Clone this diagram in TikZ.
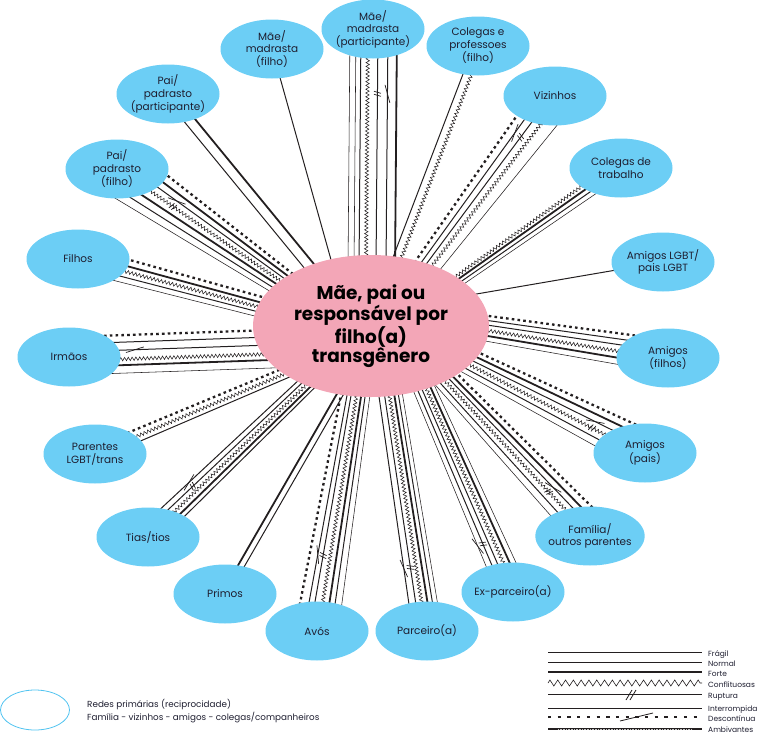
\documentclass[tikz,border=0pt]{standalone}
\usepackage{fontspec}
\setmainfont{Poppins}
\usetikzlibrary{calc,shapes.geometric,decorations.pathmorphing,decorations.markings}
\pgfdeclarelayer{bg}
\pgfsetlayers{bg,main}
\definecolor{nodeblue}{RGB}{108,206,245}
\definecolor{nodepink}{RGB}{243,166,183}
\definecolor{ink}{RGB}{35,31,32}
\definecolor{txt}{RGB}{30,30,48}
\definecolor{legblue}{RGB}{80,195,240}
\newcommand\bund[5]{%
  \coordinate (bA) at ($(c.#1)!14pt!(c)$);
  \def\mpos{#4}%
  \foreach \bOff/\bSty in {#5}{%
    \pgfmathsetmacro\bOs{#3*\bOff}%
    \expandafter\draw\expandafter[\bSty] ($(bA)!\bOs pt!90:(#2)$) -- ($(#2)!\bOff pt!-90:(bA)$);
  }%
}
\tikzset{
  lnfr/.style={ink, line width=0.55pt},
  lnno/.style={ink, line width=1pt},
  lnfo/.style={ink, line width=1.8pt},
  lncf/.style={draw=none, postaction={draw=ink, line width=0.55pt, decorate, decoration={zigzag, amplitude=1.7pt, segment length=3.8pt}}},
  lnds/.style={ink, line width=2.3pt, dash pattern=on 2.6pt off 3.2pt},
  rmk/.style={postaction={decorate, decoration={markings, mark=at position \mpos with {\draw[ink, line width=0.7pt] (-2.5pt,-3.5pt)--(-0.5pt,3.5pt) (0.5pt,-3.5pt)--(2.5pt,3.5pt);}}}},
  imk/.style={postaction={decorate, decoration={markings, mark=at position \mpos with {\draw[ink, line width=0.7pt] (-9pt,-2.5pt)--(9pt,2.5pt);}}}},
  lnnr/.style={lnno, rmk},
  lnni/.style={lnno, imk},
  lnfi/.style={lnfr, imk},
  lncr/.style={lncf, rmk},
  bnode/.style={ellipse, fill=nodeblue, minimum width=103pt, minimum height=59pt, inner sep=-3pt, align=center, text=txt, font=\fontsize{10.5}{12.5}\selectfont},
  cnode/.style={ellipse, fill=nodepink, minimum width=236pt, minimum height=142pt, inner sep=0pt, align=center, text=black, font=\bfseries\fontsize{18.5}{19}\selectfont},
  lgl/.style={anchor=base west, inner sep=0pt, text=txt, font=\fontsize{7.5}{9}\selectfont},
  lgt/.style={anchor=base west, inner sep=0pt, text=txt, font=\fontsize{8.8}{10}\selectfont}
}
\begin{document}
\begin{tikzpicture}[x=1pt,y=-1pt]
\useasboundingbox (0,0) rectangle (764,734);
% centre
\node[cnode] (c) at (371,326) {Mãe, pai ou\\responsável por\\filho(a)\\transgênero};
% outer nodes
\node[bnode] (n1) at (272,49) {Mãe/\\madrasta\\(filho)};
\node[bnode] (n2) at (373,29) {Mãe/\\madrasta\\(participante)};
\node[bnode] (n3) at (478,46) {Colegas e\\professoes\\(filho)};
\node[bnode] (n4) at (555,96) {Vizinhos};
\node[bnode] (n5) at (621,168) {Colegas de\\trabalho};
\node[bnode] (n6) at (663,262) {Amigos LGBT/\\pais LGBT};
\node[bnode] (n7) at (668,358) {Amigos\\(filhos)};
\node[bnode] (n8) at (645,453) {Amigos\\(pais)};
\node[bnode] (n9) at (590,536) {Família/\\outros parentes};
\node[bnode] (n10) at (513,592) {Ex-parceiro(a)};
\node[bnode] (n11) at (427,631) {Parceiro(a)};
\node[bnode] (n12) at (317,631) {Avós};
\node[bnode] (n13) at (225,594) {Primos};
\node[bnode] (n14) at (148,537) {Tias/tios};
\node[bnode] (n15) at (95,454) {Parentes\\LGBT/trans};
\node[bnode] (n16) at (69,357) {Irmãos};
\node[bnode] (n17) at (78,259) {Filhos};
\node[bnode] (n18) at (117,169) {Pai/\\padrasto\\(filho)};
\node[bnode] (n19) at (168,94) {Pai/\\padrasto\\(participante)};
% connectors
\begin{pgfonlayer}{bg}
\bund{124}{n1}{1}{0.7}{0/lnno}
\bund{90}{n2}{1}{0.73}{23/lnfr,17/lnfr,12/lnno,5/lncf,-5/lnnr,-15/lnni,-24/lnfo}
\bund{69}{n3}{1}{0.7}{4/lnno,-4/lncf}
\bund{46}{n4}{0.6}{0.76}{20/lnds,11/lnni,3/lnnr,-6/lncf,-20/lnfr}
\bund{26}{n5}{0.7}{0.7}{8/lncf,3/lnfo,-2/lnno,-7/lnfr}
\bund{18}{n6}{1}{0.7}{0/lnno}
\bund{359}{n7}{0.75}{0.7}{18/lnds,12/lnno,6/lnno,-1/lncf,-8/lnfo,-15/lnfr}
\bund{340}{n8}{0.6}{0.72}{22/lnds,14/lnfo,6/lnni,-2/lncr,-10/lnno,-18/lnfr}
\bund{325}{n9}{0.6}{0.73}{22/lnds,14/lnfo,7/lnni,0/lncr,-8/lnno,-16/lnfr}
\bund{313}{n10}{0.7}{0.76}{15/lnfr,9/lnfo,3/lncf,-3/lnno,-9/lnnr,-15/lnfi}
\bund{287}{n11}{0.8}{0.74}{15/lnfr,10/lnno,5/lnfo,-1/lncf,-7/lnnr,-14/lnni}
\bund{257}{n12}{0.65}{0.7}{21/lnfr,14/lnno,8/lnfo,1/lncf,-7/lnnr,-13/lnni,-22/lnds}
\bund{247}{n13}{1}{0.7}{-3/lnfo,3/lnno}
\bund{222}{n14}{0.7}{0.71}{-12/lnni,-6/lnnr,0/lncf,6/lnfo,11/lnno}
\bund{210}{n15}{0.8}{0.7}{-7/lnds,0/lncf,6/lnno}
\bund{194}{n16}{1}{0.68}{-20/lnds,-13/lnno,-5/lnni,4/lncf,10/lnfo,18/lnfr}
\bund{171}{n17}{0.8}{0.7}{-13/lnds,-6/lnfo,0/lncf,6/lnno,12/lnfr}
\bund{155}{n18}{0.5}{0.68}{-26/lnds,-17/lnfo,-9/lnni,-1/lncr,8/lnfo,17/lnno,26/lnfr}
\bund{137}{n19}{1}{0.7}{5/lnno,-5/lnfo}
\end{pgfonlayer}
% legend (line types)
\node[lgl] (l1) at (708,656) {Frágil};
\node[lgl] (l2) at (708,666) {Normal};
\node[lgl] (l3) at (708,676) {Forte};
\node[lgl] (l4) at (708,687) {Conflituosas};
\node[lgl] (l5) at (708,698) {Ruptura};
\node[lgl] (l6) at (708,711) {Interrompida};
\node[lgl] (l7) at (708,721) {Descontínua};
\node[lgl] (l8) at (708,732) {Ambivantes};
\coordinate (a1) at (548,652);
\coordinate (a2) at (548,662);
\coordinate (a3) at (548,672);
\coordinate (a4) at (548,683);
\coordinate (a5) at (548,694);
\coordinate (a6) at (548,708);
\coordinate (a7) at (548,717);
\coordinate (a8) at (548,729);
\coordinate (b1) at (702,652);
\coordinate (b2) at (702,662);
\coordinate (b3) at (702,672);
\coordinate (b4) at (702,683);
\coordinate (b5) at (702,694);
\coordinate (b6) at (702,708);
\coordinate (b7) at (702,717);
\coordinate (b8) at (702,729);
\draw[lnfr] (a1) -- (b1);
\draw[lnno] (a2) -- (b2);
\draw[ink, line width=2.5pt] (a3) -- (b3);
\draw[ink, line width=0.6pt, decorate, decoration={zigzag, amplitude=3pt, segment length=7.8pt}] (a4) -- (b4);
\draw[lnno] (a5) -- (b5);
\draw[ink, line width=0.8pt] ($(a5)+(78,6)$) -- ($(a5)+(84,-4)$) ($(a5)+(82,6)$) -- ($(a5)+(88,-4)$);
\draw[lnno] (a6) -- (b6);
\draw[ink, line width=0.8pt] ($(a6)+(72,13)$) -- ($(a6)+(105,5)$);
\draw[ink, line width=2.6pt, dash pattern=on 3.3pt off 6.4pt] (a7) -- (b7);
\draw[ink, line width=2.6pt] (a8) -- (b8);
\draw[gray!45, line width=0.9pt, dash pattern=on 0.8pt off 0.8pt] ($(a8)+(10,0)$) -- ($(b8)+(-10,0)$);
% legend (primary networks)
\node[ellipse, draw=legblue, line width=0.8pt, minimum width=69pt, minimum height=40pt, inner sep=0pt] (leg) at (35,710) {};
\node[lgt] (t1) at (87,707) {Redes primárias (reciprocidade)};
\node[lgt] (t2) at (87,720) {Família - vizinhos - amigos - colegas/companheiros};
\end{tikzpicture}
\end{document}
